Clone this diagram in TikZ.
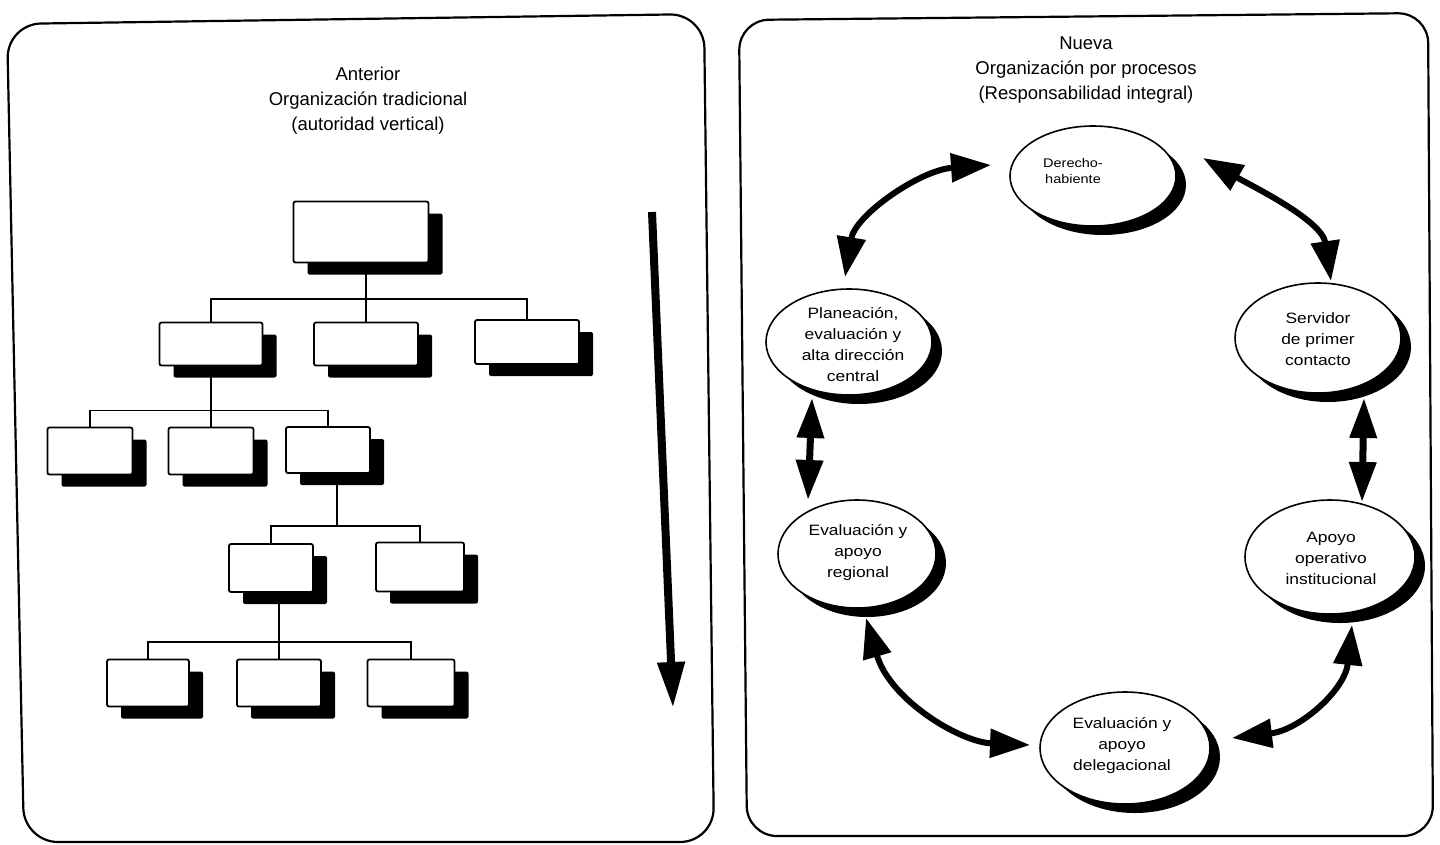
\documentclass[tikz,border=0pt]{standalone}
\usepackage{fontspec}
\setmainfont{Liberation Sans}
\newfontfamily\widesans[FakeStretch=1.16]{Liberation Sans}
\usetikzlibrary{arrows.meta,shapes.geometric,shadows,calc}

\begin{document}
\begin{tikzpicture}[x=1pt,y=-1pt,
  frame/.style={line width=2.2pt, rounded corners=34pt},
  obox/.style={draw, line width=1.8pt, fill=white, rounded corners=2pt, inner sep=0pt,
    drop shadow={shadow xshift=14pt, shadow yshift=-12pt, fill=black, opacity=1}},
  link/.style={line width=1.7pt},
  proc/.style={ellipse, draw, line width=1.6pt, fill=white, inner sep=0pt,
    drop shadow={shadow xshift=10pt, shadow yshift=-9pt, fill=black, opacity=1}},
  ptext/.style={align=center, font=\widesans\fontsize{15}{21}\selectfont},
  heading/.style={align=center, font=\fontsize{18.5}{25}\selectfont},
  biarrow/.style={line width=6pt, {Triangle[length=40pt,width=28pt]}-{Triangle[length=40pt,width=28pt]}},
  shortarrow/.style={line width=7pt, {Triangle[length=40pt,width=26pt]}-{Triangle[length=40pt,width=26pt]}},
]
\useasboundingbox (0,0) rectangle (1440,844);

% panel frames
\draw[frame] (7,24) -- (704,14) -- (714,842) -- (24,842) -- cycle;
\draw[frame, rounded corners=30pt] (739,20) -- (1428,13) -- (1433,836) -- (747,836) -- cycle;

% headings
\node[heading] (tl) at (368,101) {Anterior\\Organización tradicional\\(autoridad vertical)};
\node[heading] (tr) at (1086,70) {Nueva\\Organización por procesos\\(Responsabilidad integral)};

% hierarchical chart
\node[obox, minimum width=135pt, minimum height=61pt] (b0) at (361,232) {};
\node[obox, minimum width=103pt, minimum height=43pt] (b1) at (211,344) {};
\node[obox, minimum width=104pt, minimum height=43pt] (b2) at (366,344) {};
\node[obox, minimum width=104pt, minimum height=44pt] (b3) at (527,342) {};
\node[obox, minimum width=85pt, minimum height=47pt] (b4) at (90,451) {};
\node[obox, minimum width=85pt, minimum height=47pt] (b5) at (211,451) {};
\node[obox, minimum width=84pt, minimum height=46pt] (b6) at (328,450) {};
\node[obox, minimum width=84pt, minimum height=48pt] (b7) at (271,568) {};
\node[obox, minimum width=88pt, minimum height=49pt] (b8) at (420,567) {};
\node[obox, minimum width=82pt, minimum height=47pt] (b9) at (148,683) {};
\node[obox, minimum width=84pt, minimum height=47pt] (b10) at (279,683) {};
\node[obox, minimum width=87pt, minimum height=47pt] (b11) at (411,683) {};

\coordinate (j0) at ($(b2.north)+(0,-22.5)$);
\draw[link] (b2.north |- b0.south) -- (b2.north);
\draw[link] (b1.north) |- (j0) -| (b3.north);
\coordinate (j1) at ($(b5.north)+(0,-16)$);
\draw[link] (b5.north |- b1.south) -- (b5.north);
\draw[link] (b4.north) |- (j1) -| (b6.north);
\coordinate (j2) at (337,526);
\draw[link] (j2 |- b6.south) -- (j2);
\draw[link] (b7.north) |- (j2) -| (b8.north);
\coordinate (j3) at ($(b10.north)+(0,-16.5)$);
\draw[link] (b10.north |- b7.south) -- (b10.north);
\draw[link] (b9.north) |- (j3) -| (b11.north);

% downward authority arrow
\coordinate (vtop) at (652,212);
\coordinate (vbot) at (673,708);
\draw[line width=8pt, -{Triangle[length=46pt,width=26pt]}] (vtop) -- (vbot);

% process cycle
\node[proc, minimum width=166pt, minimum height=100pt] (der) at (1093,176) {};
\node[align=center, font=\widesans\fontsize{12.5}{15.5}\selectfont] (der-t) at ($(der)+(-20,-5)$) {Derecho-\\habiente};

\node[proc, minimum width=166pt, minimum height=106pt] (plan) at (849,342) {};
\node[ptext] (plan-t) at ($(plan)+(4,3)$) {Planeación,\\evaluación y\\alta dirección\\central};

\node[proc, minimum width=166pt, minimum height=110pt] (serv) at (1318,338) {};
\node[ptext] (serv-t) at ($(serv)+(0,1)$) {Servidor\\de primer\\contacto};

\node[proc, minimum width=158pt, minimum height=108pt] (reg) at (857,554) {};
\node[ptext] (reg-t) at ($(reg)+(1,-1)$) {Evaluación y\\apoyo\\regional};

\node[proc, minimum width=170pt, minimum height=114pt] (apo) at (1330,557) {};
\node[ptext] (apo-t) at ($(apo)+(1,1)$) {Apoyo\\operativo\\institucional};

\node[proc, minimum width=170pt, minimum height=112pt] (del) at (1125,748) {};
\node[ptext] (del-t) at ($(del)+(-3,-2)$) {Evaluación y\\apoyo\\delegacional};

\draw[biarrow] ($(plan)+(-4,-65)$) .. controls ($(plan)+(6,-127)$) and ($(der)+(-173,-6)$) .. ($(der)+(-102,-11)$);
\draw[biarrow] ($(der)+(110,-18)$) .. controls ($(der)+(157,9)$) and ($(serv)+(4,-118)$) .. ($(serv)+(13,-57)$);
\draw[shortarrow] ($(plan)+(-37,56)$) -- ($(reg)+(-49,-54)$);
\draw[shortarrow] ($(serv)+(46,60)$) -- ($(apo)+(32,-55)$);
\draw[biarrow] ($(reg)+(9,64)$) .. controls ($(reg)+(33,146)$) and ($(del)+(-165,-6)$) .. ($(del)+(-95,-3)$);
\draw[biarrow] ($(apo)+(22,68)$) .. controls ($(apo)+(15,133)$) and ($(del)+(175,-18)$) .. ($(del)+(107,-10)$);
\end{tikzpicture}
\end{document}
